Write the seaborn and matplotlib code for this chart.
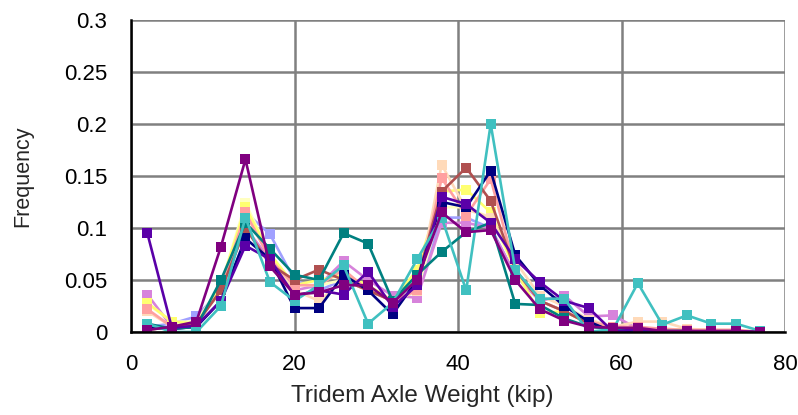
import matplotlib
matplotlib.use("Agg")
import matplotlib.pyplot as plt
import seaborn as sns
import pandas as pd
from matplotlib.ticker import FuncFormatter

weights = [2, 5, 8, 11, 14, 17, 20, 23, 26, 29, 32, 35, 38, 41, 44, 47, 50, 53, 56, 59, 62, 65, 68, 71, 74, 77]

lavender = [0.005, 0.008, 0.015, 0.040, 0.115, 0.094, 0.050, 0.040, 0.050, 0.040, 0.030, 0.040, 0.110, 0.110, 0.100, 0.055, 0.030, 0.020, 0.008, 0.003, 0.002, 0.001, 0.001, 0.000, 0.000, 0.000]
orchid = [0.036, 0.005, 0.010, 0.040, 0.100, 0.070, 0.040, 0.045, 0.068, 0.050, 0.035, 0.033, 0.105, 0.105, 0.100, 0.055, 0.030, 0.035, 0.015, 0.016, 0.003, 0.002, 0.001, 0.001, 0.001, 0.000]
lightyellow = [0.027, 0.010, 0.010, 0.045, 0.124, 0.075, 0.045, 0.045, 0.050, 0.040, 0.030, 0.040, 0.120, 0.120, 0.110, 0.060, 0.030, 0.020, 0.008, 0.004, 0.003, 0.002, 0.001, 0.001, 0.001, 0.000]
yellow = [0.028, 0.010, 0.008, 0.045, 0.120, 0.075, 0.045, 0.050, 0.055, 0.045, 0.030, 0.060, 0.135, 0.137, 0.115, 0.060, 0.018, 0.020, 0.008, 0.005, 0.003, 0.003, 0.002, 0.002, 0.001, 0.000]
peach = [0.020, 0.005, 0.008, 0.040, 0.115, 0.070, 0.040, 0.030, 0.050, 0.040, 0.030, 0.039, 0.161, 0.118, 0.110, 0.068, 0.035, 0.025, 0.012, 0.005, 0.010, 0.010, 0.003, 0.002, 0.002, 0.000]
salmon = [0.022, 0.005, 0.008, 0.040, 0.115, 0.070, 0.045, 0.045, 0.060, 0.040, 0.030, 0.040, 0.148, 0.112, 0.147, 0.060, 0.030, 0.020, 0.010, 0.005, 0.005, 0.003, 0.002, 0.002, 0.002, 0.000]
brown = [0.002, 0.005, 0.008, 0.040, 0.100, 0.065, 0.050, 0.060, 0.050, 0.040, 0.030, 0.050, 0.135, 0.158, 0.126, 0.060, 0.030, 0.020, 0.008, 0.002, 0.002, 0.001, 0.000, 0.000, 0.000, 0.000]
navy = [0.005, 0.003, 0.005, 0.030, 0.090, 0.070, 0.023, 0.023, 0.055, 0.040, 0.017, 0.050, 0.125, 0.120, 0.155, 0.074, 0.045, 0.025, 0.010, 0.000, 0.002, 0.000, 0.000, 0.000, 0.000, 0.000]
teal = [0.008, 0.003, 0.005, 0.050, 0.105, 0.080, 0.055, 0.050, 0.095, 0.085, 0.030, 0.055, 0.077, 0.096, 0.105, 0.027, 0.026, 0.013, 0.005, 0.003, 0.002, 0.001, 0.001, 0.000, 0.000, 0.000]
indigo = [0.095, 0.004, 0.006, 0.030, 0.083, 0.070, 0.035, 0.040, 0.036, 0.058, 0.024, 0.045, 0.130, 0.123, 0.105, 0.070, 0.048, 0.030, 0.023, 0.000, 0.003, 0.000, 0.000, 0.000, 0.000, 0.000]
turquoise = [0.008, 0.000, 0.000, 0.025, 0.110, 0.048, 0.030, 0.045, 0.064, 0.008, 0.028, 0.070, 0.110, 0.040, 0.200, 0.060, 0.032, 0.032, 0.000, 0.003, 0.047, 0.007, 0.016, 0.008, 0.008, 0.001]
purple = [0.002, 0.005, 0.010, 0.082, 0.166, 0.063, 0.036, 0.038, 0.045, 0.045, 0.028, 0.050, 0.115, 0.096, 0.098, 0.050, 0.022, 0.011, 0.005, 0.004, 0.004, 0.001, 0.001, 0.001, 0.001, 0.000]

series = {
    "S1": (lavender, "#A0A0FF"),
    "S2": (orchid, "#D783DB"),
    "S3": (lightyellow, "#FFFFC0"),
    "S4": (yellow, "#FFFF70"),
    "S5": (peach, "#FFDAB9"),
    "S6": (salmon, "#FFA0A0"),
    "S7": (brown, "#B05050"),
    "S8": (navy, "#000080"),
    "S9": (teal, "#008080"),
    "S10": (indigo, "#5A00A8"),
    "S11": (turquoise, "#40C0C0"),
    "S12": (purple, "#800080"),
}

rows = []
for name, (vals, _) in series.items():
    for w, v in zip(weights, vals):
        rows.append({"series": name, "weight": w, "freq": v})
df = pd.DataFrame(rows)
palette = {k: c for k, (_, c) in series.items()}

sns.set_style("white")
plt.rcParams["font.family"] = ["Liberation Sans", "DejaVu Sans"]

fig = plt.figure(figsize=(7.98, 4.15), dpi=100)
ax = fig.add_axes([131 / 798, 83 / 415, 654 / 798, 312 / 415])

sns.lineplot(data=df, x="weight", y="freq", hue="series", hue_order=list(series.keys()),
             palette=palette, marker="s", markersize=6.5, markeredgewidth=0,
             linewidth=1.9, legend=False, ax=ax, sort=False)

ax.set_xlim(0, 80)
ax.set_ylim(0, 0.3)
ax.set_xticks([0, 20, 40, 60, 80])
ax.set_yticks([0, 0.05, 0.1, 0.15, 0.2, 0.25, 0.3])
ax.yaxis.set_major_formatter(FuncFormatter(lambda v, p: f"{v:g}"))
ax.grid(True, color="#808080", linewidth=1.8)
ax.set_axisbelow(True)
for s in ["top", "right"]:
    ax.spines[s].set_visible(False)
for s in ["left", "bottom"]:
    ax.spines[s].set_color("black")
    ax.spines[s].set_linewidth(1.8)
    ax.spines[s].set_zorder(5)
ax.tick_params(axis="both", direction="out", length=6, width=1.5, color="#808080",
               labelsize=16, labelcolor="black")
ax.tick_params(axis="y", pad=11)
ax.tick_params(axis="x", pad=10)
ax.set_xlabel("Tridem Axle Weight (kip)", fontsize=17.5)
ax.xaxis.set_label_coords(0.445, -0.17)
ax.set_ylabel("Frequency", fontsize=15.5)
ax.yaxis.set_label_coords(-0.15, 0.5)

fig.savefig("out.png", dpi=100)
